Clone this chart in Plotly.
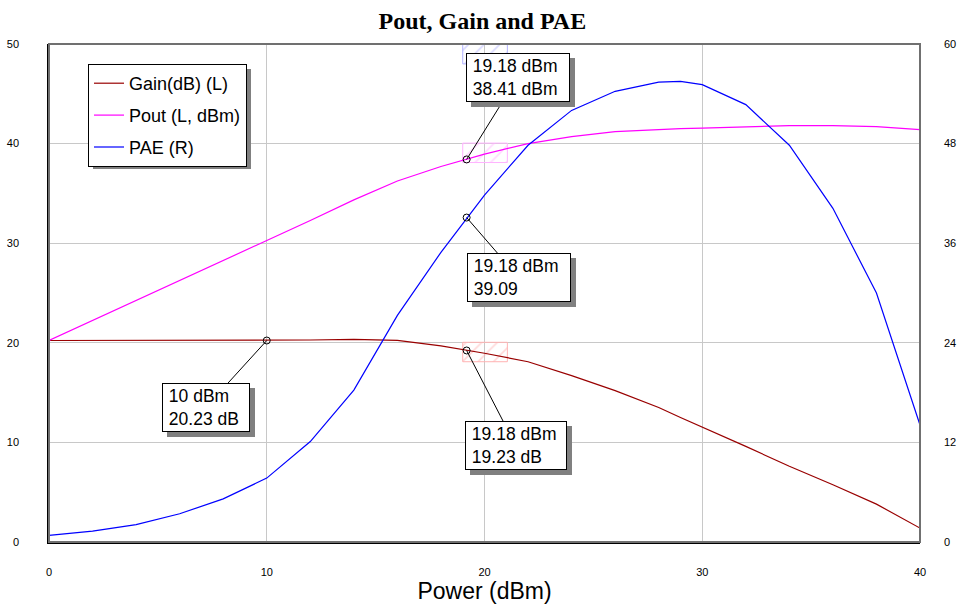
import plotly.graph_objects as go

# ---------------- data ----------------
power_dbm = [0, 2, 4, 6, 8, 10, 12, 14, 16, 18, 20, 22, 24, 26, 28, 29, 30, 32, 34, 36, 38, 40]
gain_db = [20.23, 20.23, 20.23, 20.23, 20.23, 20.23, 20.28, 20.35, 20.25, 19.7, 18.95,
           18.1, 16.7, 15.2, 13.5, 12.5, 11.55, 9.6, 7.6, 5.75, 3.8, 1.4]
pout_dbm = [20.23, 22.23, 24.23, 26.23, 28.23, 30.23, 32.28, 34.35, 36.25, 37.7, 38.95,
            40.0, 40.7, 41.2, 41.45, 41.5, 41.55, 41.7, 41.8, 41.8, 41.7, 41.4]
pae_pct = [0.8, 1.3, 2.1, 3.4, 5.2, 7.7, 12.1, 18.3, 27.3, 34.9, 41.8,
           47.8, 52.0, 54.3, 55.4, 55.5, 55.1, 52.7, 47.8, 40.2, 30.0, 14.1]

gain_mk_x = [10, 19.18]
gain_mk_y = [20.23, 19.23]
pout_mk_x = [19.18]
pout_mk_y = [38.41]
pae_mk_x = [19.18]
pae_mk_y = [39.09]

x_ticks = [0, 10, 20, 30, 40]
yl_ticks = [0, 10, 20, 30, 40, 50]
yr_ticks = [0, 12, 24, 36, 48, 60]

# ---------------- layout geometry ----------------
W, H = 959, 607
ML, MR, MT, MB = 49, 39, 44, 65
PW, PH = W - ML - MR, H - MT - MB
XR, YLR, YRR = (0, 40), (0, 50), (0, 60)
pxx = PW / (XR[1] - XR[0])
pxy = PH / (YLR[1] - YLR[0])

SANS = "Liberation Sans, Arial, sans-serif"
NARROW = "Liberation Sans Narrow, Arial Narrow, Liberation Sans, Arial, sans-serif"

GAIN_C = "#990000"
POUT_C = "#ff00ff"
PAE_C = "#0000ff"

fig = go.Figure()

# hatched marker boxes
def hatch(x0, x1, y0, y1, col):
    fig.add_trace(go.Scatter(
        x=[x0, x1, x1, x0, x0], y=[y0, y0, y1, y1, y0], mode="lines",
        fill="toself", line=dict(color=col, width=1),
        fillcolor="rgba(0,0,0,0)",
        fillpattern=dict(shape="/", fgcolor=col, bgcolor="rgba(0,0,0,0)", size=11, solidity=0.15),
        showlegend=False, hoverinfo="skip"))

hatch(19.0, 21.05, 18.1, 20.05, "#ffb3b3")
hatch(19.0, 21.05, 38.1, 40.05, "#ffb3ff")
hatch(19.0, 21.05, 48.0, 50.5, "#b3b3ff")

fig.add_trace(go.Scatter(x=power_dbm, y=gain_db, mode="lines", name="Gain(dB) (L)",
                         line=dict(color=GAIN_C, width=1.2), legendgroup="a"))
fig.add_trace(go.Scatter(x=power_dbm, y=pout_dbm, mode="lines", name="Pout (L, dBm)",
                         line=dict(color=POUT_C, width=1.2), legendgroup="b"))
fig.add_trace(go.Scatter(x=power_dbm, y=pae_pct, mode="lines", name="PAE (R)",
                         line=dict(color=PAE_C, width=1.2), legendgroup="c", yaxis="y2"))

# marker circles
mk = dict(symbol="circle-open", size=7, color="black", line=dict(width=1, color="black"))
fig.add_trace(go.Scatter(x=gain_mk_x, y=gain_mk_y, mode="markers", marker=mk, showlegend=False))
fig.add_trace(go.Scatter(x=pout_mk_x, y=pout_mk_y, mode="markers", marker=mk, showlegend=False))
fig.add_trace(go.Scatter(x=pae_mk_x, y=pae_mk_y, mode="markers", marker=mk, showlegend=False, yaxis="y2"))

# annotation callouts: (x, y_left_units, text, ax, ay, box width)
callouts = [
    (gain_mk_x[0], gain_mk_y[0], f"{gain_mk_x[0]:g} dBm<br>{gain_mk_y[0]:.2f} dB", -61, 67, 84),
    (gain_mk_x[1], gain_mk_y[1], f"{gain_mk_x[1]:g} dBm<br>{gain_mk_y[1]:.2f} dB", 49, 95, 98),
    (pout_mk_x[0], pout_mk_y[0], f"{pout_mk_x[0]:g} dBm<br>{pout_mk_y[0]:.2f} dBm", 51, -82, 100),
    (pae_mk_x[0], pae_mk_y[0] * YLR[1] / YRR[1], f"{pae_mk_x[0]:g} dBm<br>{pae_mk_y[0]:.2f}", 52, 60, 100),
]

shapes = []
annotations = []
for (x, y, txt, ax, ay, bw) in callouts:
    txt2 = "<br>".join("\u00a0" + t for t in txt.split("<br>"))
    # connector line from point to box centre (box hides the rest)
    shapes.append(dict(type="line", xref="x", yref="y", x0=x, y0=y,
                       x1=x + ax / pxx, y1=y - ay / pxy,
                       line=dict(color="black", width=1), layer="above"))
    common = dict(x=x, y=y, xref="x", yref="y", ax=ax, ay=ay,
                  showarrow=True, arrowcolor="rgba(0,0,0,0)", arrowwidth=0.1,
                  width=bw, height=45, borderpad=1, borderwidth=1, align="left")
    shadow = dict(common)
    shadow.update(text="\u00a0", bgcolor="#808080", bordercolor="#808080", xshift=5, yshift=-5,
                  font=dict(family=SANS, size=17, color="#808080"))
    annotations.append(shadow)
    main = dict(common)
    main.update(text=txt2, bgcolor="white", bordercolor="black",
                font=dict(family=SANS, size=17.5, color="black"))
    annotations.append(main)

# plot frame (top/right grey)
shapes.append(dict(type="rect", xref="paper", yref="paper", x0=0, y0=0, x1=1, y1=1,
                   line=dict(color="#707070", width=2), layer="above"))

def px2paper_x(p):
    return (p - ML) / PW

def px2paper_y(p):
    return (H - MB - p) / PH

# legend shadow
shapes.append(dict(type="rect", xref="paper", yref="paper",
                   x0=px2paper_x(93), x1=px2paper_x(251), y0=px2paper_y(169), y1=px2paper_y(69),
                   fillcolor="#808080", line=dict(width=0), layer="above"))

fig.update_layout(
    width=W, height=H,
    margin=dict(l=ML, r=MR, t=MT, b=MB, pad=0, autoexpand=False),
    paper_bgcolor="white", plot_bgcolor="white",
    title=dict(text="Pout, Gain and PAE", x=0.503, xanchor="center", y=1 - 21 / H, yanchor="middle",
               yref="container", automargin=False,
               font=dict(family="Liberation Serif, Times New Roman, serif", size=24, weight="bold", color="black")),
    xaxis=dict(range=list(XR), tickvals=x_ticks, showgrid=True, gridcolor="#c8c8c8", gridwidth=1,
               zeroline=False, showline=True, linecolor="black", linewidth=1.5, ticks="",
               automargin=False,
               ticklabelstandoff=19, tickfont=dict(family=NARROW, size=11, color="black"),
               title=dict(text="Power (dBm)", standoff=3, font=dict(family=SANS, size=23, color="black"))),
    yaxis=dict(range=list(YLR), tickvals=yl_ticks, showgrid=True, gridcolor="#c8c8c8", gridwidth=1,
               zeroline=False, showline=True, linecolor="black", linewidth=1.5, ticks="",
               automargin=False,
               ticklabelstandoff=26, tickfont=dict(family=NARROW, size=11, color="black")),
    yaxis2=dict(range=list(YRR), tickvals=yr_ticks, overlaying="y", side="right", showgrid=False,
                zeroline=False, showline=False, ticks="", ticklabelstandoff=23, automargin=False,
                tickfont=dict(family=NARROW, size=11, color="black")),
    legend=dict(x=px2paper_x(88), y=px2paper_y(64), xanchor="left", yanchor="top",
                bgcolor="white", bordercolor="black", borderwidth=1,
                font=dict(family=SANS, size=18, color="black"), tracegroupgap=5.5,
                itemwidth=30),
    shapes=shapes, annotations=annotations,
    showlegend=True,
)

fig.write_html("out.html")
